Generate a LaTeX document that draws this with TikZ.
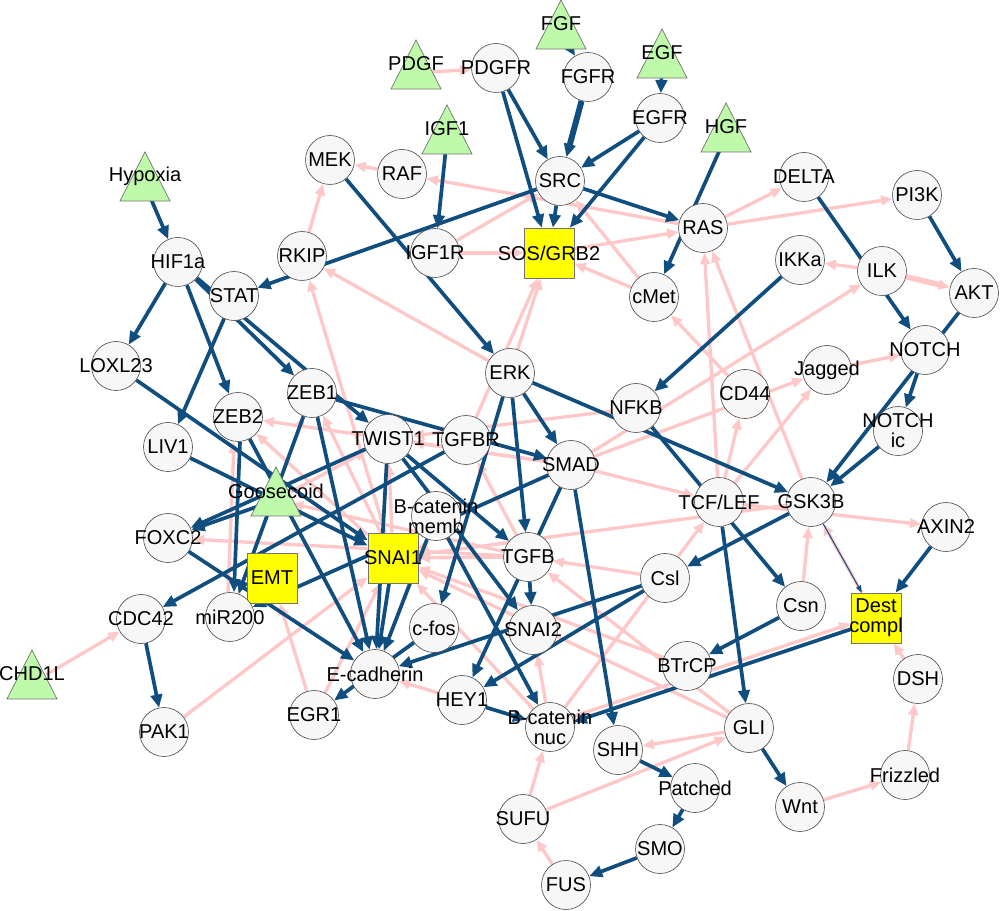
\documentclass[tikz,border=0pt]{standalone}
\usepackage{fontspec}
\setmainfont{Liberation Sans}
\usetikzlibrary{arrows.meta}
\pgfdeclarelayer{bg}
\pgfsetlayers{bg,main}
\definecolor{eb}{HTML}{104E80}
\definecolor{ep}{HTML}{FFC8C8}
\definecolor{nf}{HTML}{F7F7F7}
\definecolor{tg}{HTML}{BEFAAA}
\definecolor{sy}{HTML}{FFFF00}
\newcommand\mkc[4]{\node[cn] (#1) at (#2,#3) {}; \node[lb] at (#1) {#4};}
\newcommand\mks[4]{\node[sq] (#1) at (#2,#3) {}; \node[lb] at (#1) {#4};}
\newcommand\mkt[4]{\path[tri] (#2,#3) -- ++(25,49) -- ++(-50,0) -- cycle; \node[tn] (#1) at (#2,#3+33) {}; \node[lb] at (#2,#3+24) {#4};}
\begin{document}
\begin{tikzpicture}[x=0.02cm,y=-0.02cm,
 font=\fontsize{11.4}{11.4}\selectfont,
 cn/.style={circle,draw=black!70,line width=0.35pt,fill=nf,minimum size=0.98cm,inner sep=0pt},
 sq/.style={rectangle,draw=black!55,line width=0.4pt,fill=sy,minimum size=1cm,inner sep=0pt},
 tn/.style={circle,minimum size=0.64cm,inner sep=0pt},
 tri/.style={fill=tg,draw=black!55,line width=0.4pt},
 lb/.style={align=center,inner sep=0pt},
 be/.style={draw=eb,line width=2.1pt,-{Triangle[length=7.5pt,width=6.5pt]}},
 pe/.style={draw=ep,line width=1.9pt,-{Triangle[length=6.5pt,width=5.5pt]}},
]
\useasboundingbox (0,0) rectangle (1000,911);
% circles and squares
\mkc{PDGFR}{496}{68}{PDGFR}
\mkc{FGFR}{588}{77}{FGFR}
\mkc{EGFR}{660}{118}{EGFR}
\mkc{SRC}{560}{181}{SRC}
\mkc{RAF}{402}{174}{RAF}
\mkc{MEK}{330}{160}{MEK}
\mkc{RAS}{703}{228}{RAS}
\mkc{DELTA}{804}{177}{DELTA}
\mkc{PIK}{917}{195}{PI3K}
\mks{SOS}{549}{253}{SOS/GRB2}
\mkc{IGFR}{435}{253}{IGF1R}
\mkc{RKIP}{302}{256}{RKIP}
\mkc{HIF}{178}{262}{HIF1a}
\mkc{STAT}{234}{296}{STAT}
\mkc{cMet}{654}{297}{cMet}
\mkc{IKKa}{800}{260}{IKKa}
\mkc{ILK}{882}{271}{ILK}
\mkc{AKT}{974}{293}{AKT}
\mkc{NOTCH}{925}{350}{NOTCH}
\mkc{LOXL}{116}{366}{LOXL23}
\mkc{ERK}{510}{373}{ERK}
\mkc{ZEBa}{312}{393}{ZEB1}
\mkc{Jag}{827}{370}{Jagged}
\mkc{CDff}{745}{394}{CD44}
\mkc{NFKB}{636}{408}{NFKB}
\mkc{ZEBb}{238}{417}{ZEB2}
\mkc{TWIST}{388}{439}{TWIST1}
\mkc{TGFBR}{466}{440}{TGFBR}
\mkc{SMAD}{571}{465}{SMAD}
\mkc{NIC}{898}{431}{NOTCH\\ic}
\mkc{LIV}{168}{447}{LIV1}
\mkc{BCM}{436}{516}{B-catenin\\memb}
\mkc{TCF}{719}{502}{TCF/LEF}
\mkc{GSK}{811}{502}{GSK3B}
\mkc{AXIN}{946}{527}{AXIN2}
\mkc{FOXC}{168}{538}{FOXC2}
\mks{SNAIa}{393}{558}{SNAI1}
\mkc{TGFB}{528}{557}{TGFB}
\mks{EMT}{272}{578}{EMT}
\mkc{Csl}{665}{578}{Csl}
\mks{DC}{876}{618}{Dest\\compl}
\mkc{Csn}{801}{606}{Csn}
\mkc{CDC}{141}{619}{CDC42}
\mkc{miR}{230}{617}{miR200}
\mkc{cfos}{434}{628}{c-fos}
\mkc{SNAIb}{533}{630}{SNAI2}
\mkc{BTrCP}{687}{666}{BTrCP}
\mkc{Ecad}{375}{674}{E-cadherin}
\mkc{DSH}{918}{679}{DSH}
\mkc{HEY}{462}{700}{HEY1}
\mkc{EGR}{314}{715}{EGR1}
\mkc{BCN}{550}{727}{B-catenin\\nuc}
\mkc{GLI}{749}{728}{GLI}
\mkc{PAK}{164}{732}{PAK1}
\mkc{SHH}{618}{750}{SHH}
\mkc{Patched}{695}{788}{Patched}
\mkc{Frizzled}{905}{775}{Frizzled}
\mkc{Wnt}{800}{807}{Wnt}
\mkc{SUFU}{523}{819}{SUFU}
\mkc{SMO}{660}{849}{SMO}
\mkc{FUS}{566}{885}{FUS}
% triangles
\mkt{FGF}{561}{0}{FGF}
\mkt{PDGF}{416}{40}{PDGF}
\mkt{EGF}{662}{29}{EGF}
\mkt{IGF}{447}{105}{IGF1}
\mkt{HGF}{726}{103}{HGF}
\mkt{Hyp}{145}{152}{Hypoxia}
\mkt{Goose}{276}{467}{Goosecoid}
\mkt{CHD}{32}{650}{CHD1L}
\begin{pgfonlayer}{bg}
% pink edges
\draw[pe] (PDGF) -- (PDGFR);
\draw[pe] (RAS) -- (RAF);
\draw[pe] (RAF) -- (MEK);
\draw[pe] (IGFR) -- (SOS);
\draw[pe] (IGFR) -- (SRC);
\draw[pe] (ERK) -- (RKIP);
\draw[pe] (RKIP) -- (MEK);
\draw[pe] (SNAIa) -- (RKIP);
\draw[pe] (ERK) -- (SOS);
\draw[pe] (TGFBR) -- (SOS);
\draw[pe] (SOS) -- (RAS);
\draw[pe] (cMet) -- (SOS);
\draw[pe] (cMet) -- (SRC);
\draw[pe] (RAS) -- (DELTA);
\draw[pe] (RAS) -- (PIK);
\draw[pe] (ILK) -- (IKKa);
\draw[pe,line width=3.2pt] (ILK) -- (AKT);
\draw[pe] (Jag) -- (NOTCH);
\draw[pe] (SMAD) -- (ILK);
\draw[pe] (SMAD) -- (Jag);
\draw[pe] (CDff) -- (cMet);
\draw[pe] (TCF) -- (CDff);
\draw[pe] (TCF) -- (Jag);
\draw[pe] (TCF) -- (RAS);
\draw[pe] (GSK) -- (RAS);
\draw[pe] (TCF) -- (AXIN);
\draw[pe] (GSK) -- (SNAIa);
\draw[pe] (SMAD) -- (TCF);
\draw[pe] (BCN) -- (TCF);
\draw[pe] (DC) -- (GSK);
\draw[pe] (DSH) -- (DC);
\draw[pe] (Csn) -- (GSK);
\draw[pe,transform canvas={yshift=1.6pt}] (BCN) -- (DC);
\draw[pe] (Wnt) -- (Frizzled);
\draw[pe] (Frizzled) -- (DSH);
\draw[pe] (FUS) -- (SUFU);
\draw[pe] (SUFU) -- (BCN);
\draw[pe] (SUFU) -- (GLI);
\draw[pe] (GLI) -- (SHH);
\draw[pe] (BCN) -- (SNAIb);
\draw[pe] (GLI) -- (TGFB);
\draw[pe] (GLI) -- (SNAIa);
\draw[pe] (BTrCP) -- (SNAIa);
\draw[pe] (BCN) -- (SNAIa);
\draw[pe] (Csl) -- (TGFB);
\draw[pe] (TGFB) -- (SNAIa);
\draw[pe] (TGFB) -- (FOXC);
\draw[pe] (TGFB) -- (Goose);
\draw[pe] (TGFB) -- (TGFBR);
\draw[pe] (NFKB) -- (TWIST);
\draw[pe] (SMAD) -- (TWIST);
\draw[pe] (SMAD) -- (ZEBb);
\draw[pe] (Goose) -- (TWIST);
\draw[pe] (SNAIa) -- (ZEBa);
\draw[pe] (SNAIa) -- (ZEBb);
\draw[pe] (SNAIa) -- (TWIST);
\draw[pe,transform canvas={xshift=-1.7pt}] (miR) -- (ZEBb);
\draw[pe] (miR) -- (ZEBa);
\draw[pe] (HEY) -- (Ecad);
\draw[pe] (EGR) -- (EMT);
\draw[pe] (EGR) -- (SNAIa);
\draw[pe] (PAK) -- (SNAIa);
\draw[pe] (CHD) -- (CDC);
\draw[pe] (Ecad) -- (BCM);
% blue edges
\draw[be] (FGF) -- (FGFR);
\draw[be] (EGF) -- (EGFR);
\draw[be] (PDGFR) -- (SRC);
\draw[be] (PDGFR) -- (SOS);
\draw[be,line width=3.4pt] (FGFR) -- (SRC);
\draw[be] (EGFR) -- (SRC);
\draw[be] (EGFR) -- (SOS);
\draw[be] (SRC) -- (SOS);
\draw[be] (SRC) -- (RAS);
\draw[be] (HGF) -- (cMet);
\draw[be] (IGF) -- (IGFR);
\draw[be] (SRC) -- (STAT);
\draw[be] (MEK) -- (ERK);
\draw[be] (Hyp) -- (HIF);
\draw[be] (HIF) -- (LOXL);
\draw[be] (HIF) -- (ZEBb);
\draw[be] (HIF) -- (ZEBa);
\draw[be] (HIF) -- (TWIST);
\draw[be] (STAT) -- (LIV);
\draw[be] (LOXL) -- (SNAIa);
\draw[be] (LIV) -- (SNAIa);
\draw[be] (PIK) -- (AKT);
\draw[be] (DELTA) -- (NOTCH);
\draw[be] (NOTCH) -- (NIC);
\draw[be] (AKT) -- (GSK);
\draw[be] (NIC) -- (GSK);
\draw[be] (IKKa) -- (NFKB);
\draw[be] (ERK) -- (GSK);
\draw[be] (NFKB) -- (Csn);
\draw[be] (GSK) -- (Csl);
\draw[be] (TCF) -- (GLI);
\draw[be] (Csn) -- (BTrCP);
\draw[be] (AXIN) -- (DC);
\draw[be,transform canvas={yshift=-1.6pt}] (DC) -- (BCN);
\draw[be] (ERK) -- (SMAD);
\draw[be] (ERK) -- (cfos);
\draw[be] (ERK) -- (TGFB);
\draw[be] (ZEBa) -- (SMAD);
\draw[be] (SMAD) -- (miR);
\draw[be] (TGFBR) -- (CDC);
\draw[be] (TWIST) -- (FOXC);
\draw[be] (Goose) -- (FOXC);
\draw[be,transform canvas={xshift=1.7pt}] (ZEBb) -- (miR);
\draw[be] (ZEBa) -- (miR);
\draw[be] (ZEBa) -- (Ecad);
\draw[be] (ZEBb) -- (Ecad);
\draw[be] (FOXC) -- (Ecad);
\draw[be] (TWIST) -- (Ecad);
\draw[be] (SNAIa) -- (Ecad);
\draw[be] (BCM) -- (Ecad);
\draw[be] (cfos) -- (EGR);
\draw[be] (SMAD) -- (HEY);
\draw[be] (TGFB) -- (SNAIb);
\draw[be] (SMAD) -- (SHH);
\draw[be] (Csl) -- (HEY);
\draw[be] (Csl) -- (Ecad);
\draw[be] (HEY) -- (BCN);
\draw[be] (BCM) -- (BCN);
\draw[be] (TWIST) -- (TGFB);
\draw[be] (TWIST) -- (SNAIb);
\draw[be] (CDC) -- (PAK);
\draw[be] (SHH) -- (Patched);
\draw[be] (Patched) -- (SMO);
\draw[be] (SMO) -- (FUS);
\draw[be] (GLI) -- (Wnt);
\draw[be,line width=0.6pt,-{Triangle[length=4pt,width=3pt]}] (GSK) -- (DC);
\end{pgfonlayer}
\end{tikzpicture}
\end{document}
